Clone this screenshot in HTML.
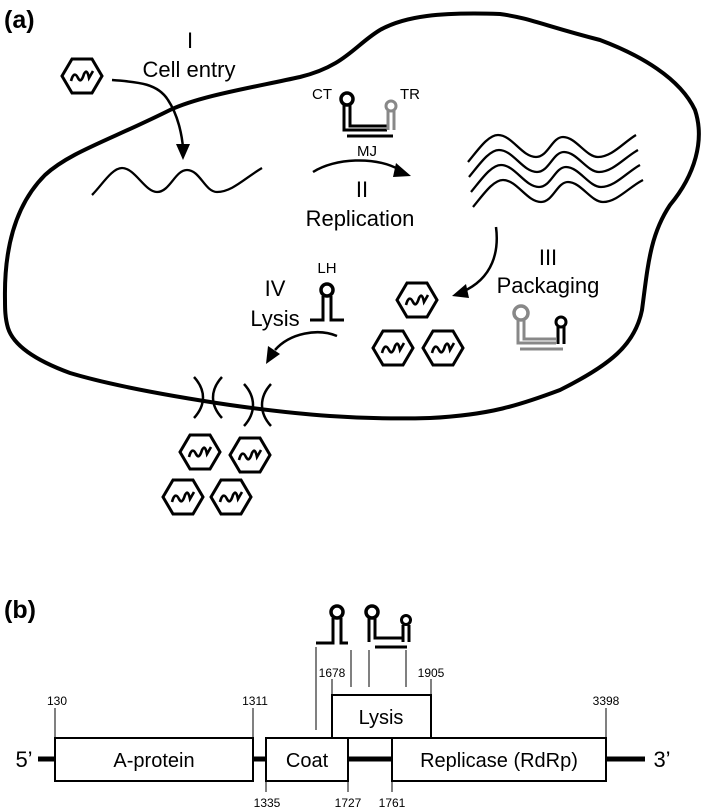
<!DOCTYPE html>
<html><head><meta charset="utf-8"><style>
html,body{margin:0;padding:0;background:#fff;}
svg{display:block;}
text{font-family:"Liberation Sans",Arial,sans-serif;fill:#000;}
</style></head><body>
<svg width="703" height="809" viewBox="0 0 703 809" xmlns="http://www.w3.org/2000/svg">
<defs>
<g id="vir">
<polygon points="-20,0 -10,-17 10,-17 20,0 10,17 -10,17" fill="#fff" stroke="#000" stroke-width="3"/>
<path d="M-11,5 Q-8,-6 -4,2 Q-1,8 2,-2 Q5,-8 7,2 L11,-5" fill="none" stroke="#000" stroke-width="2.6"/>
</g>
</defs>

<text x="4" y="28" font-size="25" font-weight="bold">(a)</text>

<path d="M5,300 C4,250 15,205 45,175 C70,152 110,140 170,110 C200,96 250,88 300,77 C345,66 355,45 380,30 C405,16 440,12 500,14 C530,18 545,26 600,40 C640,55 680,78 695,110 C705,140 695,175 670,205 C650,235 648,265 642,310 C635,345 610,365 560,390 C520,405 490,415 430,418 C360,420 300,415 230,405 C170,396 110,385 70,373 C40,362 14,347 8,328 C5,318 5,308 5,300 Z" fill="none" stroke="#000" stroke-width="4"/>

<text x="190" y="48" font-size="22" text-anchor="middle">I</text>
<text x="189" y="77" font-size="22" text-anchor="middle">Cell entry</text>
<use href="#vir" x="82" y="76"/>
<path d="M112,80 C140,82 158,84 168,100 C178,115 182,135 183,148" fill="none" stroke="#000" stroke-width="2.5"/>
<polygon points="176,144 190,144 183,160" fill="#000"/>
<path d="M92,195 C102,185 112,168 122,168 C135,168 145,192 157,192 C170,192 175,170 187,170 C200,170 205,192 217,192 C232,192 245,178 262,168" fill="none" stroke="#000" stroke-width="2.3"/>

<text x="312" y="99" font-size="15">CT</text>
<text x="400" y="99" font-size="15">TR</text>
<circle cx="347" cy="99" r="6" fill="none" stroke="#000" stroke-width="3.5"/>
<path d="M344,105 V130 M350,105 V126 H387" fill="none" stroke="#000" stroke-width="3"/>
<path d="M344,128 V130 H387" fill="none" stroke="#000" stroke-width="3"/>
<circle cx="391" cy="106" r="5" fill="none" stroke="#888" stroke-width="3"/>
<path d="M388,111 V130 M394,111 V130" fill="none" stroke="#888" stroke-width="3"/>
<line x1="347" y1="136" x2="393" y2="136" stroke="#000" stroke-width="3"/>
<text x="367" y="156" font-size="15" text-anchor="middle">MJ</text>
<path d="M313,172 C335,158 375,156 400,170" fill="none" stroke="#000" stroke-width="2.5"/>
<polygon points="396,163 411,176 393,177" fill="#000"/>
<text x="362" y="197" font-size="22" text-anchor="middle">II</text>
<text x="360" y="226" font-size="22" text-anchor="middle">Replication</text>

<g fill="none" stroke="#000" stroke-width="2.3">
<path d="M468,162 C478,150 488,135 498,135 C512,135 522,157 536,157 C548,157 552,137 563,137 C576,137 586,157 598,157 C612,157 624,142 636,135"/>
<path d="M469,177 C479,165 489,150 499,150 C513,150 523,172 537,172 C549,172 553,152 564,152 C577,152 587,172 599,172 C613,172 625,157 638,150"/>
<path d="M471,192 C481,180 491,165 501,165 C515,165 525,187 539,187 C551,187 555,167 566,167 C579,167 589,187 601,187 C615,187 627,172 640,165"/>
<path d="M473,207 C483,195 493,180 503,180 C517,180 527,202 541,202 C553,202 557,182 568,182 C581,182 591,202 603,202 C617,202 629,187 643,180"/>
</g>

<path d="M496,227 C499,250 494,278 462,292" fill="none" stroke="#000" stroke-width="2.5"/>
<polygon points="452,296 466,284 469,298" fill="#000"/>
<text x="548" y="265" font-size="22" text-anchor="middle">III</text>
<text x="548" y="293" font-size="22" text-anchor="middle">Packaging</text>
<circle cx="521" cy="313" r="7" fill="none" stroke="#888" stroke-width="3.5"/>
<path d="M518,319 V343 H556 M524,319 V339 H556" fill="none" stroke="#888" stroke-width="3"/>
<circle cx="561" cy="322" r="5" fill="none" stroke="#000" stroke-width="3"/>
<path d="M558,327 V344 M564,327 V344" fill="none" stroke="#000" stroke-width="3"/>
<line x1="520" y1="349" x2="563" y2="349" stroke="#888" stroke-width="3"/>

<use href="#vir" x="417" y="300"/>
<use href="#vir" x="393" y="348"/>
<use href="#vir" x="443" y="348"/>

<text x="327" y="273" font-size="15" text-anchor="middle">LH</text>
<text x="275" y="296" font-size="22" text-anchor="middle">IV</text>
<text x="275" y="326" font-size="22" text-anchor="middle">Lysis</text>
<circle cx="327" cy="290" r="6" fill="none" stroke="#000" stroke-width="3.5"/>
<path d="M310,320 H323 V296 M331,296 V320 H344" fill="none" stroke="#000" stroke-width="3"/>
<path d="M337,336 C318,328 290,333 275,350" fill="none" stroke="#000" stroke-width="2.5"/>
<polygon points="266,364 268,346 280,354" fill="#000"/>

<g fill="none" stroke="#000" stroke-width="2.5">
<path d="M194,377 C206,390 206,405 194,418"/>
<path d="M222,377 C210,390 210,405 222,418"/>
<path d="M244,384 C256,397 256,413 244,426"/>
<path d="M271,384 C259,397 259,413 271,426"/>
</g>
<use href="#vir" x="200" y="452"/>
<use href="#vir" x="250" y="455"/>
<use href="#vir" x="183" y="497"/>
<use href="#vir" x="231" y="497"/>

<text x="4" y="618" font-size="25" font-weight="bold">(b)</text>

<circle cx="337" cy="612" r="6" fill="none" stroke="#000" stroke-width="3.5"/>
<path d="M316,643 H333 V618 M341,618 V643 H348" fill="none" stroke="#000" stroke-width="3"/>
<circle cx="372" cy="612" r="6" fill="none" stroke="#000" stroke-width="3.5"/>
<path d="M369,618 V642 M375,618 V638 H403" fill="none" stroke="#000" stroke-width="3"/>
<circle cx="406" cy="620" r="4.5" fill="none" stroke="#000" stroke-width="3"/>
<path d="M403,625 V642 M409,625 V642" fill="none" stroke="#000" stroke-width="3"/>
<line x1="375" y1="647" x2="407" y2="647" stroke="#000" stroke-width="3"/>

<g stroke="#000" stroke-width="1">
<line x1="316" y1="647" x2="316" y2="730"/>
<line x1="351" y1="650" x2="351" y2="687"/>
<line x1="369" y1="650" x2="369" y2="687"/>
<line x1="406" y1="650" x2="406" y2="687"/>
<line x1="55" y1="708" x2="55" y2="738"/>
<line x1="253" y1="708" x2="253" y2="738"/>
<line x1="606" y1="708" x2="606" y2="738"/>
<line x1="332" y1="679" x2="332" y2="695"/>
<line x1="431" y1="679" x2="431" y2="695"/>
<line x1="266" y1="781" x2="266" y2="792"/>
<line x1="348" y1="781" x2="348" y2="792"/>
<line x1="392" y1="781" x2="392" y2="792"/>
</g>

<line x1="38" y1="759" x2="645" y2="759" stroke="#000" stroke-width="5"/>
<g fill="#fff" stroke="#000" stroke-width="2">
<rect x="332" y="695" width="99" height="43"/>
<rect x="55" y="738" width="198" height="43"/>
<rect x="266" y="738" width="82" height="43"/>
<rect x="392" y="738" width="214" height="43"/>
</g>
<text x="381" y="724" font-size="20" text-anchor="middle">Lysis</text>
<text x="154" y="767" font-size="20" text-anchor="middle">A-protein</text>
<text x="307" y="767" font-size="20" text-anchor="middle">Coat</text>
<text x="499" y="767" font-size="20" text-anchor="middle">Replicase (RdRp)</text>
<text x="24" y="767" font-size="22" text-anchor="middle">5’</text>
<text x="662" y="767" font-size="22" text-anchor="middle">3’</text>

<g font-size="12" text-anchor="middle">
<text x="57" y="705">130</text>
<text x="255" y="705">1311</text>
<text x="606" y="705">3398</text>
<text x="332" y="677">1678</text>
<text x="431" y="677">1905</text>
<text x="267" y="807">1335</text>
<text x="348" y="807">1727</text>
<text x="392" y="807">1761</text>
</g>
</svg>
</body></html>
